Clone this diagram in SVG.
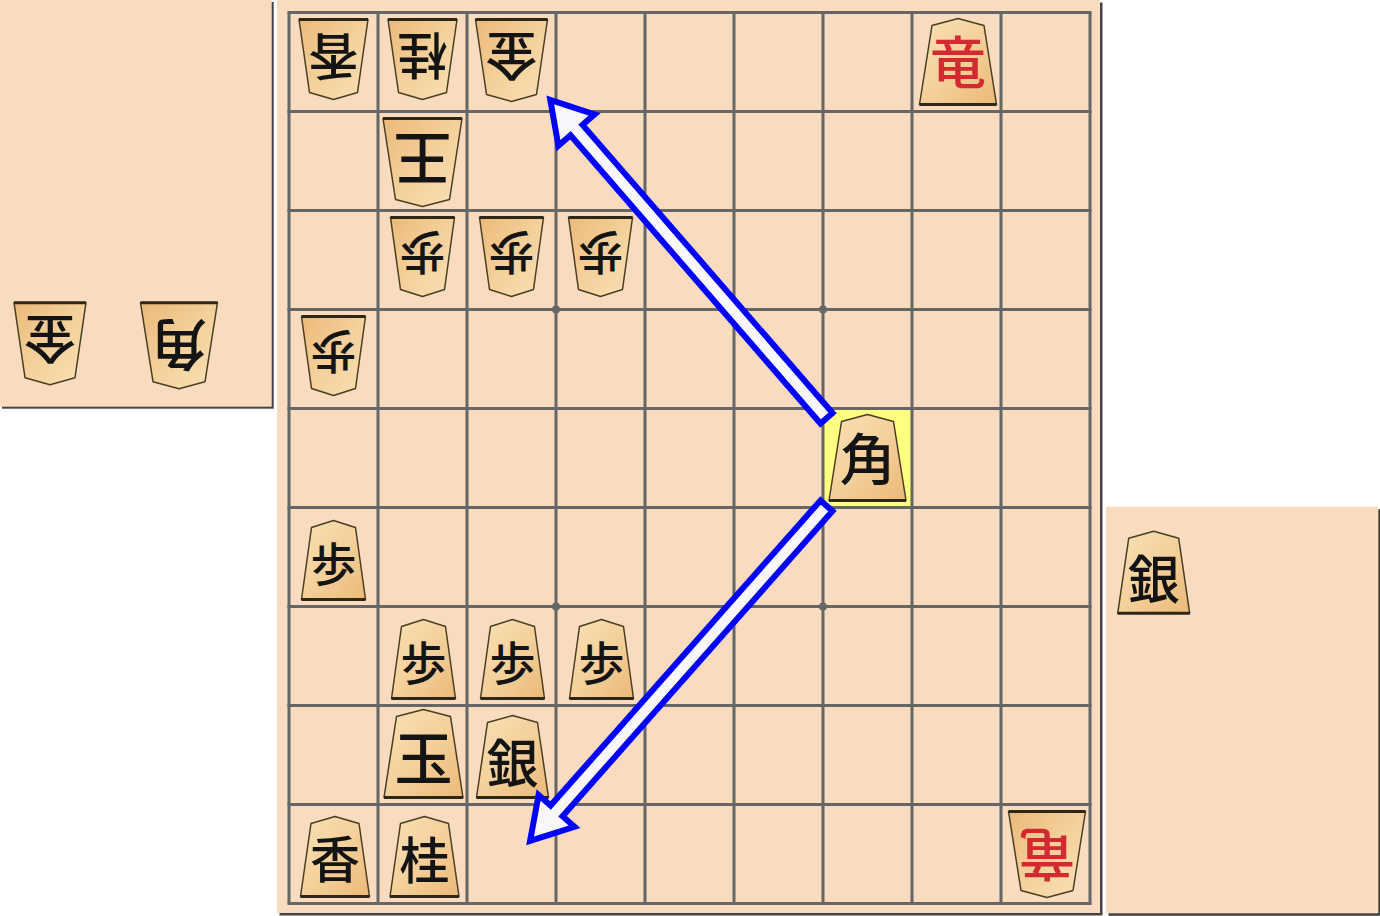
<svg xmlns="http://www.w3.org/2000/svg" xmlns:xlink="http://www.w3.org/1999/xlink" width="1380" height="916" viewBox="0 0 1380 916">
<style>
.bg{fill:#f9dcbf}
.sh{fill:#444}
.grid line{stroke:#666;stroke-width:3}
.dot{fill:#666}
.pc{fill:url(#wood);stroke:#4a3e22;stroke-width:1.5;stroke-linejoin:round}
.base{stroke:#2e2716;stroke-width:3}
.k{font-family:"Liberation Sans","Noto Sans CJK JP",sans-serif;font-weight:500;text-anchor:middle;dominant-baseline:central;fill:#141414}
.red{fill:#d22a30}
.arrow{fill:#f8f8fc;stroke:#0000ff;stroke-width:6;stroke-linejoin:miter}
</style>
<defs>
<linearGradient id="wood" x1="0" y1="0" x2="1" y2="1">
<stop offset="0" stop-color="#f9e1b6"/>
<stop offset="0.5" stop-color="#f4d09b"/>
<stop offset="1" stop-color="#ebb978"/>
</linearGradient>
<g id="p-fu"><polygon class="pc" points="0,-36.5 22,-29.5 32,42.5 -32,42.5 -22,-29.5"/><line class="base" x1="-32" y1="42.5" x2="32" y2="42.5"/></g>
<g id="p-ky"><polygon class="pc" points="0,-37.5 24,-30.5 34.5,42.5 -34.5,42.5 -24,-30.5"/><line class="base" x1="-34.5" y1="42.5" x2="34.5" y2="42.5"/></g>
<g id="p-gi"><polygon class="pc" points="0,-39.5 25,-32.5 36,42.5 -36,42.5 -25,-32.5"/><line class="base" x1="-36" y1="42.5" x2="36" y2="42.5"/></g>
<g id="p-ka"><polygon class="pc" points="0,-43.5 26,-36.5 38.5,42.5 -38.5,42.5 -26,-36.5"/><line class="base" x1="-38.5" y1="42.5" x2="38.5" y2="42.5"/></g>
<g id="p-ou"><polygon class="pc" points="0,-45.5 27,-38.5 39.5,42.5 -39.5,42.5 -27,-38.5"/><line class="base" x1="-39.5" y1="42.5" x2="39.5" y2="42.5"/></g>
</defs>

<g id="hand-gote">
<rect class="sh" x="2" y="2" width="271.7" height="406.7"/>
<rect class="bg" x="0" y="0" width="271.7" height="406.7"/>
</g>
<g id="hand-sente">
<rect class="sh" x="1108.5" y="509.2" width="272.3" height="406.6"/>
<rect class="bg" x="1106" y="506.7" width="272.3" height="406.6"/>
</g>
<g id="board">
<rect class="sh" x="279.5" y="2.5" width="823" height="913"/>
<rect class="bg" x="277" y="0" width="823" height="913"/>
<rect x="823" y="408.5" width="89" height="99" fill="#ffff80"/>
<g class="grid">
<line x1="289" y1="12.5" x2="289" y2="903.5"/>
<line x1="378" y1="12.5" x2="378" y2="903.5"/>
<line x1="467" y1="12.5" x2="467" y2="903.5"/>
<line x1="556" y1="12.5" x2="556" y2="903.5"/>
<line x1="645" y1="12.5" x2="645" y2="903.5"/>
<line x1="734" y1="12.5" x2="734" y2="903.5"/>
<line x1="823" y1="12.5" x2="823" y2="903.5"/>
<line x1="912" y1="12.5" x2="912" y2="903.5"/>
<line x1="1001" y1="12.5" x2="1001" y2="903.5"/>
<line x1="1090" y1="12.5" x2="1090" y2="903.5"/>
<line x1="287.5" y1="12.5" x2="1091.5" y2="12.5"/>
<line x1="287.5" y1="111.5" x2="1091.5" y2="111.5"/>
<line x1="287.5" y1="210.5" x2="1091.5" y2="210.5"/>
<line x1="287.5" y1="309.5" x2="1091.5" y2="309.5"/>
<line x1="287.5" y1="408.5" x2="1091.5" y2="408.5"/>
<line x1="287.5" y1="507.5" x2="1091.5" y2="507.5"/>
<line x1="287.5" y1="606.5" x2="1091.5" y2="606.5"/>
<line x1="287.5" y1="705.5" x2="1091.5" y2="705.5"/>
<line x1="287.5" y1="804.5" x2="1091.5" y2="804.5"/>
<line x1="287.5" y1="903.5" x2="1091.5" y2="903.5"/>
</g>
<circle class="dot" cx="556" cy="309.5" r="4"/>
<circle class="dot" cx="823" cy="309.5" r="4"/>
<circle class="dot" cx="556" cy="606.5" r="4"/>
<circle class="dot" cx="823" cy="606.5" r="4"/>
</g>

<!-- gote pieces (rotated) -->
<g id="g-ky-91" transform="translate(333.5,62) rotate(180)"><use xlink:href="#p-ky"/><text class="k" y="7" font-size="50">香</text></g>
<g id="g-ke-81" transform="translate(422.5,62) rotate(180)"><use xlink:href="#p-ky"/><text class="k" y="8" font-size="50">桂</text></g>
<g id="g-ki-71" transform="translate(511.5,62) rotate(180)"><use xlink:href="#p-gi"/><text class="k" y="8" font-size="52">金</text></g>
<g id="g-ou-82" transform="translate(422.5,161) rotate(180)"><use xlink:href="#p-ou"/><text class="k" y="4" font-size="58">王</text></g>
<g id="g-fu-83" transform="translate(422.5,260) rotate(180)"><use xlink:href="#p-fu"/><text class="k" y="8" font-size="46">歩</text></g>
<g id="g-fu-73" transform="translate(511.5,260) rotate(180)"><use xlink:href="#p-fu"/><text class="k" y="8" font-size="46">歩</text></g>
<g id="g-fu-63" transform="translate(600.5,260) rotate(180)"><use xlink:href="#p-fu"/><text class="k" y="8" font-size="46">歩</text></g>
<g id="g-fu-94" transform="translate(333.5,359) rotate(180)"><use xlink:href="#p-fu"/><text class="k" y="8" font-size="46">歩</text></g>
<g id="g-ry-19" transform="translate(1047,854) rotate(180)"><use xlink:href="#p-ka"/><text class="k red" y="1" font-size="56">竜</text></g>
<g id="g-hand-ki" transform="translate(50,345.2) rotate(180)"><use xlink:href="#p-gi"/><text class="k" y="8" font-size="52">金</text></g>
<g id="g-hand-ka" transform="translate(179,345.2) rotate(180)"><use xlink:href="#p-ka"/><text class="k" y="2" font-size="56">角</text></g>

<!-- sente pieces -->
<g id="s-ry-21" transform="translate(958,62)"><use xlink:href="#p-ka"/><text class="k red" y="1" font-size="56">竜</text></g>
<g id="s-ka-35" transform="translate(867.5,458)"><use xlink:href="#p-ka"/><text class="k" y="2" font-size="56">角</text></g>
<g id="s-fu-96" transform="translate(333.5,557)"><use xlink:href="#p-fu"/><text class="k" y="8" font-size="46">歩</text></g>
<g id="s-fu-87" transform="translate(423.5,656)"><use xlink:href="#p-fu"/><text class="k" y="8" font-size="46">歩</text></g>
<g id="s-fu-77" transform="translate(512.5,656)"><use xlink:href="#p-fu"/><text class="k" y="8" font-size="46">歩</text></g>
<g id="s-fu-67" transform="translate(601.5,656)"><use xlink:href="#p-fu"/><text class="k" y="8" font-size="46">歩</text></g>
<g id="s-ou-88" transform="translate(423.5,755)"><use xlink:href="#p-ou"/><text class="k" y="4" font-size="58">玉</text></g>
<g id="s-gi-78" transform="translate(512.5,755)"><use xlink:href="#p-gi"/><text class="k" y="10" font-size="52">銀</text></g>
<g id="s-ky-99" transform="translate(335,854)"><use xlink:href="#p-ky"/><text class="k" y="7" font-size="50">香</text></g>
<g id="s-ke-89" transform="translate(424.5,854)"><use xlink:href="#p-ky"/><text class="k" y="8" font-size="50">桂</text></g>
<g id="s-hand-gi" transform="translate(1153.7,570.8)"><use xlink:href="#p-gi"/><text class="k" y="10" font-size="52">銀</text></g>

<g id="connectors">
<polygon class="arrow" transform="translate(828.5,420.5) rotate(-130.95)" points="3,-8 384.5,-8 384.5,-24 424.5,0 384.5,24 384.5,8 3,8"/>
<polygon class="arrow" transform="translate(828.5,503.5) rotate(131.5)" points="3,-8 410.4,-8 410.4,-24 450.4,0 410.4,24 410.4,8 3,8"/>
</g>
</svg>
